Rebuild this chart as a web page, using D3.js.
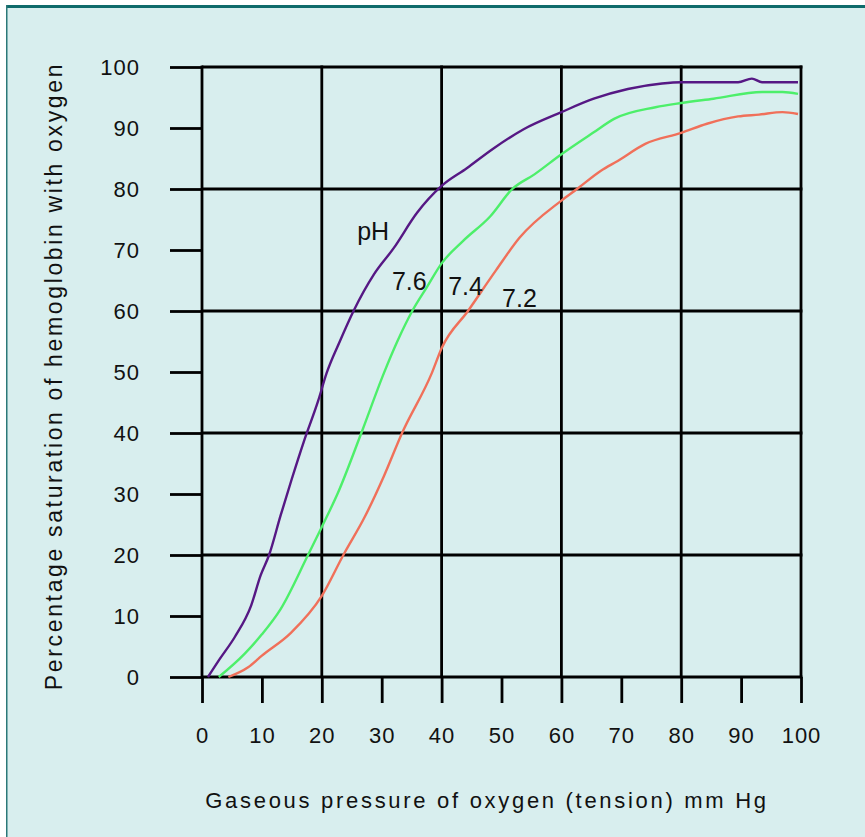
<!DOCTYPE html>
<html>
<head>
<meta charset="utf-8">
<title>Oxygen dissociation curves</title>
<style>
  body { margin: 0; background: #fff; }
  svg text { font-family: "Liberation Sans", Arial, sans-serif; fill: #111; }
</style>
</head>
<body>
<svg id="chart"></svg>
<script src="https://d3js.org/d3.v7.min.js"></script>
<script>
// pH 7.6 (purple)
var pressure76 = [1, 3, 5.5, 8.2, 9.8, 11.2, 13.1, 15, 17, 19.4, 20.8, 23, 25.3, 28.7, 32, 35.9, 40, 44.2, 48.6, 53.7, 60, 65.4, 71.1, 76.8, 80, 89.5, 91.8, 93.5, 99.5];
var sat76 = [0, 3, 6.6, 11.7, 16.7, 20, 26.4, 32.5, 38.6, 45.3, 49.8, 55, 60, 66, 70.3, 76.1, 80.5, 83.4, 86.6, 89.8, 92.6, 94.8, 96.4, 97.3, 97.5, 97.5, 98.1, 97.5, 97.5];
// pH 7.4 (green)
var pressure74 = [2.8, 7.1, 10, 13.1, 17.7, 20, 22.7, 26.6, 30.4, 32.6, 35.1, 37.6, 40, 43.6, 48.1, 51.8, 55.5, 60, 65.4, 68.8, 75.7, 80, 85.4, 93.5, 96.9, 99.5];
var sat74 = [0, 3.8, 7, 11.1, 20, 24.6, 30.2, 40, 49.9, 55, 60, 64, 67.8, 71.5, 75.5, 80, 82.4, 85.7, 89.3, 91.5, 93.4, 94.1, 94.8, 95.9, 95.9, 95.6];
// pH 7.2 (salmon)
var pressure72 = [4.4, 7.7, 10, 14.8, 20, 23.6, 27.2, 30.4, 33.4, 38.4, 40, 44.4, 49.1, 53, 60, 62.6, 66.6, 69.4, 74, 80, 84.3, 89.5, 93, 96.9, 99.5];
var sat72 = [0, 1.6, 3.5, 7.2, 13.3, 20, 26.3, 33, 40, 49.9, 53.9, 60, 66.7, 72, 78.1, 80, 83, 84.6, 87.4, 89.2, 90.7, 91.9, 92.2, 92.6, 92.3];

var xTicks = [0, 10, 20, 30, 40, 50, 60, 70, 80, 90, 100];
var yTicks = [0, 10, 20, 30, 40, 50, 60, 70, 80, 90, 100];
var gridValues = [0, 20, 40, 60, 80, 100];

var labelText = ["pH", "7.6", "7.4", "7.2"];
var labelPressure = [25.9, 31.7, 41.1, 50.1];
var labelSat = [71.6, 63.4, 62.6, 60.7];

var width = 865, height = 837;
var svg = d3.select("#chart").attr("width", width).attr("height", height);

// panel
svg.append("rect").attr("x", 6).attr("y", 5).attr("width", width).attr("height", height)
  .attr("fill", "#d8eeee");
svg.append("rect").attr("x", 6).attr("y", 5).attr("width", width).attr("height", 3)
  .attr("fill", "#0f6b6b");
svg.append("rect").attr("x", 6).attr("y", 5).attr("width", 1.5).attr("height", height)
  .attr("fill", "#2b7878");

var x = d3.scaleLinear().domain([0, 100]).range([202, 801]);
var y = d3.scaleLinear().domain([0, 100]).range([677, 67]);

var tickLen = 28;

// axes (ticks + labels)
var yAxis = svg.append("g").attr("transform", "translate(" + x(0) + ",0)")
  .call(d3.axisLeft(y).tickValues(yTicks).tickSize(tickLen + 4).tickPadding(30));
var xAxis = svg.append("g").attr("transform", "translate(0," + y(0) + ")")
  .call(d3.axisBottom(x).tickValues(xTicks).tickSize(tickLen - 2).tickPadding(24));

[yAxis, xAxis].forEach(function(a) {
  a.select(".domain").remove();
  a.selectAll(".tick line").attr("stroke", "#000").attr("stroke-width", 2.8);
  a.selectAll(".tick text").style("font-size", "22px").style("letter-spacing", "1px").attr("fill", "#111");
});

// grid
var grid = svg.append("g");
grid.selectAll(".v").data(gridValues).enter().append("line")
  .attr("x1", function(d) { return x(d); }).attr("x2", function(d) { return x(d); })
  .attr("y1", y(100) - 1.4).attr("y2", y(0))
  .attr("stroke", "#000").attr("stroke-width", 2.8);
grid.selectAll(".h").data(gridValues).enter().append("line")
  .attr("x1", x(0)).attr("x2", x(100) + 1.4)
  .attr("y1", function(d) { return y(d); }).attr("y2", function(d) { return y(d); })
  .attr("stroke", "#000").attr("stroke-width", 2.8);

// curves
var series = [
  { p: pressure76, s: sat76, color: "#561884" },
  { p: pressure74, s: sat74, color: "#4def6a" },
  { p: pressure72, s: sat72, color: "#f0705a" }
];
var line = d3.line()
  .x(function(d) { return x(d[0]); })
  .y(function(d) { return y(d[1]); })
  .curve(d3.curveMonotoneX);

svg.append("g").selectAll("path").data(series).enter().append("path")
  .attr("d", function(d) { return line(d3.zip(d.p, d.s)); })
  .attr("fill", "none")
  .attr("stroke", function(d) { return d.color; })
  .attr("stroke-width", 2.4);

// curve labels
svg.append("g").selectAll("text").data(labelText).enter().append("text")
  .attr("x", function(d, i) { return x(labelPressure[i]); })
  .attr("y", function(d, i) { return y(labelSat[i]); })
  .style("font-size", "25px")
  .text(function(d) { return d; });

// axis titles
svg.append("text")
  .attr("x", 487).attr("y", 808)
  .attr("text-anchor", "middle")
  .style("font-size", "22px")
  .style("letter-spacing", "2.7px")
  .text("Gaseous pressure of oxygen (tension) mm Hg");

svg.append("text")
  .attr("transform", "translate(62,376) rotate(-90)")
  .attr("text-anchor", "middle")
  .style("font-size", "23px")
  .style("letter-spacing", "2.65px")
  .text("Percentage saturation of hemoglobin with oxygen");
</script>
</body>
</html>
